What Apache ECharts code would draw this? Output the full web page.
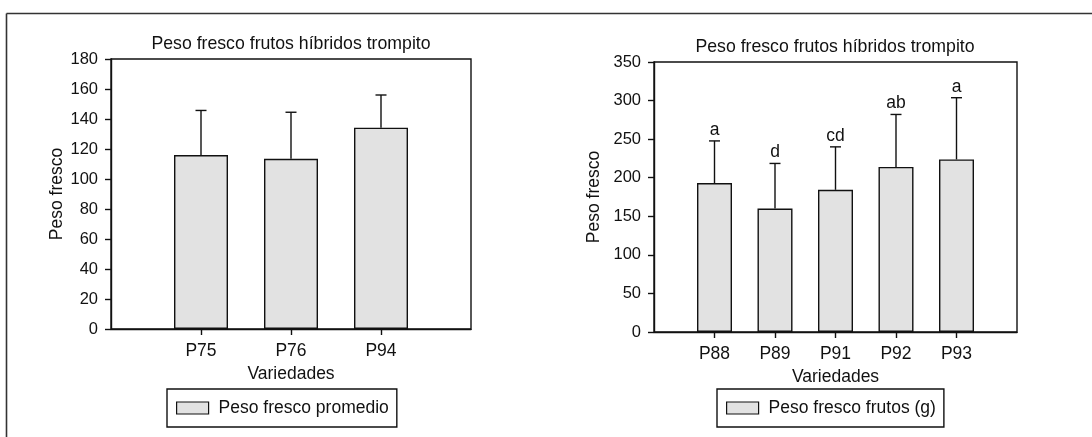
<!DOCTYPE html>
<html>
<head>
<meta charset="utf-8">
<script src="https://cdn.jsdelivr.net/npm/echarts@6/dist/echarts.min.js"></script>
<style>html,body{margin:0;padding:0;background:#fff;}#c{width:1092px;height:437px;}</style>
</head>
<body>
<div id="c"></div>
<script>
// ---- data ----
const titleText = 'Peso fresco frutos híbridos trompito';
const leftCategories = ['P75', 'P76', 'P94'];
const leftMeans = [116, 113.5, 134.2];
const leftUpper = [145.7, 144.5, 156];
const leftSeriesName = 'Peso fresco promedio';

const rightCategories = ['P88', 'P89', 'P91', 'P92', 'P93'];
const rightMeans = [193, 160, 184.3, 214, 223.7];
const rightUpper = [247.7, 218.5, 240, 282, 303.7];
const rightLetters = ['a', 'd', 'cd', 'ab', 'a'];
const rightSeriesName = 'Peso fresco frutos (g)';

const leftYTicks = {min: 0, max: 180, interval: 20};
const rightYTicks = {min: 0, max: 350, interval: 50};
const yName = 'Peso fresco';
const xName = 'Variedades';

// ---- build ----
const FONT = '"Liberation Sans", Arial, Helvetica, sans-serif';
const INK = '#111';
const pad = arr => [''].concat(arr).concat(['']);
const padNum = arr => [null].concat(arr).concat([null]);

function errData(means, upper, letters) {
  return means.map((m, i) => [i + 1, m, upper[i], letters ? letters[i] : '']);
}

function errRender(params, api) {
  const x = api.value(0), m = api.value(1), u = api.value(2);
  const p0 = api.coord([x, m]);
  const p1 = api.coord([x, u]);
  const letter = api.value(3);
  const st = {stroke: INK, lineWidth: 1.4};
  const children = [
    {type: 'line', shape: {x1: p0[0], y1: p0[1], x2: p1[0], y2: p1[1]}, style: st},
    {type: 'line', shape: {x1: p1[0] - 5.5, y1: p1[1], x2: p1[0] + 5.5, y2: p1[1]}, style: st}
  ];
  if (letter) {
    children.push({type: 'text', style: {text: String(letter), x: p1[0], y: p1[1] - 2,
      textAlign: 'center', textVerticalAlign: 'bottom', fill: INK, font: '17.5px ' + FONT}});
  }
  return {type: 'group', children};
}

function xAxis(gridIndex, cats) {
  return {
    type: 'category', gridIndex, data: pad(cats), boundaryGap: false,
    name: xName, nameLocation: 'middle', nameGap: 35,
    nameTextStyle: {fontSize: 17.5, color: INK, fontFamily: FONT},
    axisLine: {lineStyle: {color: INK, width: 1.4}},
    axisTick: {length: 6, lineStyle: {color: INK, width: 1.4}, interval: (i, v) => v !== ''},
    axisLabel: {interval: 0, margin: 13, fontSize: 17.5, color: INK, fontFamily: FONT},
    splitLine: {show: false}
  };
}
function yAxis(gridIndex, t, gap) {
  return {
    type: 'value', gridIndex, min: t.min, max: t.max, interval: t.interval,
    name: yName, nameLocation: 'middle', nameGap: gap, nameRotate: 90,
    nameTextStyle: {fontSize: 17.5, color: INK, fontFamily: FONT},
    axisLine: {show: true, lineStyle: {color: INK, width: 1.4}},
    axisTick: {show: true, length: 6, lineStyle: {color: INK, width: 1.4}},
    axisLabel: {margin: 13, fontSize: 16.5, color: INK, fontFamily: FONT},
    splitLine: {show: false}
  };
}

const barStyle = {color: '#e2e2e2', borderColor: INK, borderWidth: 1.4};

const option = {
  animation: false,
  backgroundColor: '#fff',
  textStyle: {fontFamily: FONT},
  title: [
    {text: titleText, left: 286, top: 30, textAlign: 'center',
      textStyle: {fontSize: 17.7, fontWeight: 'normal', color: INK, fontFamily: FONT}},
    {text: titleText, left: 830, top: 33, textAlign: 'center',
      textStyle: {fontSize: 17.7, fontWeight: 'normal', color: INK, fontFamily: FONT}}
  ],
  grid: [
    {left: 111, top: 59, width: 360, height: 270, show: true, borderColor: INK, borderWidth: 1.4, containLabel: false},
    {left: 654, top: 62, width: 363, height: 270, show: true, borderColor: INK, borderWidth: 1.4, containLabel: false}
  ],
  xAxis: [xAxis(0, leftCategories), xAxis(1, rightCategories)],
  yAxis: [yAxis(0, leftYTicks, 44), yAxis(1, rightYTicks, 51)],
  legend: [
    {data: [leftSeriesName], left: 167, top: 389, orient: 'horizontal',
      borderColor: INK, borderWidth: 1.4, padding: [10, 8, 10, 9],
      itemWidth: 32, itemHeight: 12, icon: 'rect',
      itemStyle: {color: '#e2e2e2', borderColor: INK, borderWidth: 1.2},
      textStyle: {fontSize: 17.5, color: INK, fontFamily: FONT, padding: [0, 0, 0, 5], lineHeight: 17}},
    {data: [rightSeriesName], left: 717, top: 389, orient: 'horizontal',
      borderColor: INK, borderWidth: 1.4, padding: [10, 8, 10, 9],
      itemWidth: 32, itemHeight: 12, icon: 'rect',
      itemStyle: {color: '#e2e2e2', borderColor: INK, borderWidth: 1.2},
      textStyle: {fontSize: 17.5, color: INK, fontFamily: FONT, padding: [0, 0, 0, 5], lineHeight: 17}}
  ],
  series: [
    {name: leftSeriesName, type: 'bar', xAxisIndex: 0, yAxisIndex: 0, barWidth: 54,
      data: padNum(leftMeans), itemStyle: barStyle, z: 2},
    {type: 'custom', xAxisIndex: 0, yAxisIndex: 0, renderItem: errRender,
      data: errData(leftMeans, leftUpper), z: 3, silent: true},
    {name: rightSeriesName, type: 'bar', xAxisIndex: 1, yAxisIndex: 1, barWidth: 35,
      data: padNum(rightMeans), itemStyle: barStyle, z: 2},
    {type: 'custom', xAxisIndex: 1, yAxisIndex: 1, renderItem: errRender,
      data: errData(rightMeans, rightUpper, rightLetters), z: 3, silent: true}
  ],
  graphic: [
    {type: 'line', shape: {x1: 6.5, y1: 13.5, x2: 1092, y2: 13.5}, style: {stroke: '#333', lineWidth: 1.6}},
    {type: 'line', shape: {x1: 6.5, y1: 13.5, x2: 6.5, y2: 437}, style: {stroke: '#333', lineWidth: 1.6}}
  ]
};

const chart = echarts.init(document.getElementById('c'), null, {renderer: 'canvas'});
chart.setOption(option);
</script>
</body>
</html>
